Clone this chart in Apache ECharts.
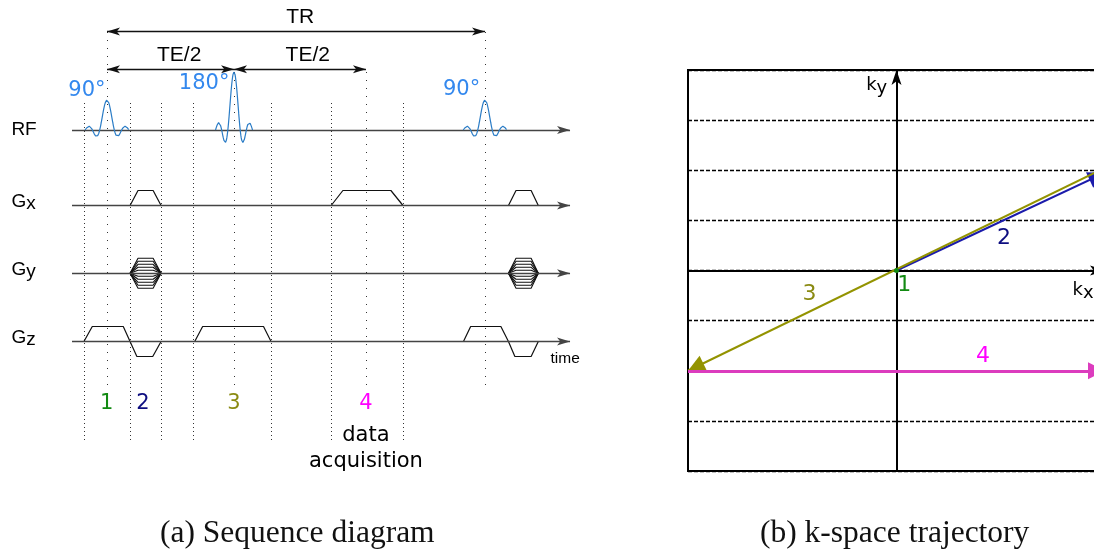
<!DOCTYPE html>
<html>
<head>
<meta charset="utf-8">
<script src="https://cdn.jsdelivr.net/npm/echarts@6/dist/echarts.min.js"></script>
<style>
  html, body { margin: 0; padding: 0; background: #fff; }
  #chart { width: 1094px; height: 553px; }
</style>
</head>
<body>
<div id="chart"></div>
<script>
// ---------- (a) spin-echo sequence: time in units of TR/100, first 90° pulse at t = 0 ----------
const laneNames = ['RF', 'Gx', 'Gy', 'Gz'];
const laneSubscripts = ['', 'x', 'y', 'z'];
const laneBaselines = [423, 347.5, 279.7, 211.5];
const laneLabelTime = -25.3;
const gradientHeight = 15;
const timeStart = -9.26, timeEnd = 122.49;

const rfCenters = [0, 33.6, 100];
const rfHeights = [30, 58, 30];
const rfHalfWidths = [5.8, 4.9, 5.75];
const rfLabels = ['90°', '180°', '90°'];
const rfLabelAt = [[-5.3, 462.5], [25.7, 469], [93.8, 463]];

// gradient lobes as [time, relative amplitude] breakpoints
const gxLobes = [
  [[6.1, 0], [8.2, 1], [12.2, 1], [14.3, 0]],
  [[59.3, 0], [62.4, 1], [75.1, 1], [78.3, 0]],
  [[106.2, 0], [108.2, 1], [112.2, 1], [114.1, 0]]
];
const gyWindows = [[6.1, 8.2, 12.2, 14.3], [106.2, 108.2, 112.2, 114.1]];
const gySteps = [1, 0.8, 0.6, 0.4, 0.2, -0.2, -0.4, -0.6, -0.8, -1];
const gzLobes = [
  [[-6.1, 0], [-3.9, 1], [4.3, 1], [6.1, 0], [7.9, -1], [12.1, -1], [14.3, 0]],
  [[23.2, 0], [25.3, 1], [41.4, 1], [43.4, 0]],
  [[94.3, 0], [96.2, 1], [104.2, 1], [106.2, 0], [107.9, -1], [112.2, -1], [114.1, 0]]
];

const segmentBounds = [-6.1, 6.1, 14.3, 22.8, 43.4, 59.3, 78.3];
const segmentSpan = [113, 453];
const timingMarks = [0, 33.6, 68.5, 100];
const timingMarkTops = [521.5, 483.7, 483.7, 521.5];
const timingMarkBottom = 168;

const spanNames = ['TR', 'TE/2', 'TE/2'];
const spanFrom = [0, 0, 33.6];
const spanTo = [100, 33.6, 68.5];
const spanLevels = [521.5, 483.7, 483.7];
const spanLabelAt = [[51.1, 535.5], [19.1, 498], [53.1, 498]];

const stepNames = ['1', '2', '3', '4'];
const stepColors = ['#128a12', '#0d0d80', '#8a8a12', '#ff00ff'];
const stepTimes = [-0.1, 9.5, 33.6, 68.5];
const stepLevel = 149;
const acquisitionLines = ['data', 'acquisition'];
const acquisitionLevels = [117, 91];
const timeLabelAt = [121.2, 194];

// ---------- (b) k-space trajectory ----------
const kLimit = 4;
const kStepFrom = [[0, 0], [4, 2.05], [-4, -2]];
const kStepTo = [[4, 1.95], [-4, -2], [4, -2]];
const kStepColors = ['#1b1bab', '#939300', '#dc3cbe'];
const kStepWidths = [2, 2, 3];
const kStepLabelAt = [[0.15, -0.30], [2.06, 0.64], [-1.67, -0.48], [1.66, -1.72]];
const kAxisLabelAt = [[-0.38, 3.69], [3.58, -0.39]];
const kAxisNames = ['y', 'x'];

const captions = ['(a) Sequence diagram', '(b) k-space trajectory'];

// ---------- drawing ----------
const SANS = 'DejaVu Sans';
const ARIAL = 'Liberation Sans';
const STEALTH = 'path://M0,0 L7,16 L0,12 L-7,16 Z';
const TRIANGLE = 'path://M0,0 L8,16 L-8,16 Z';

const series = [];

function polyline(data, color, width, grid, z) {
  series.push({
    type: 'line', xAxisIndex: grid, yAxisIndex: grid, data: data,
    showSymbol: false, symbol: 'none', silent: true, z: z || 4,
    lineStyle: { color: color, width: width }, animation: false
  });
}

// straight segments drawn as markLines; `head` = { size: [w, h] } puts the arrow tip on the end point
function markLines(grid, pairs, opts, head, z) {
  const endProps = head ? { symbolSize: head.size, symbolOffset: [0, head.size[1] / 2] } : {};
  series.push({
    type: 'line', xAxisIndex: grid, yAxisIndex: grid, data: [], silent: true, z: z || 3,
    markLine: Object.assign({
      silent: true, animation: false, label: { show: false },
      emphasis: { disabled: true },
      data: pairs.map(p => [Object.assign({ coord: p[0] }, endProps), Object.assign({ coord: p[1] }, endProps)])
    }, opts)
  });
}

// lane baselines with arrowheads
markLines(0, laneBaselines.map(b => [[timeStart, b], [timeEnd, b]]), {
  symbol: ['none', STEALTH],
  lineStyle: { type: 'solid', color: '#444', width: 1.4 }
}, { size: [8, 13] }, 3);

// segment boundaries (dense dots) and timing marks (sparse dots)
markLines(0, segmentBounds.map(t => [[t, segmentSpan[0]], [t, segmentSpan[1]]]), {
  symbol: 'none', lineStyle: { type: [1, 3], color: '#333', width: 1 }
}, null, 2);
markLines(0, timingMarks.map((t, i) => [[t, timingMarkBottom], [t, timingMarkTops[i]]]), {
  symbol: 'none', lineStyle: { type: [1, 7], color: '#333', width: 1 }
}, null, 2);

// TR and TE/2 spans
markLines(0, spanFrom.map((t, i) => [[t, spanLevels[i]], [spanTo[i], spanLevels[i]]]), {
  symbol: [STEALTH, STEALTH],
  lineStyle: { type: 'solid', color: '#111', width: 1.4 }
}, { size: [8, 13] }, 3);

// RF sinc pulses
rfCenters.forEach((c, i) => {
  const pts = [];
  const n = 180;
  for (let k = 0; k <= n; k++) {
    const x = -3 * Math.PI + 6 * Math.PI * k / n;
    const s = Math.abs(x) < 1e-9 ? 1 : Math.sin(x) / x;
    pts.push([c + rfHalfWidths[i] * x / (3 * Math.PI), laneBaselines[0] + rfHeights[i] * s]);
  }
  polyline(pts, '#2a7cc6', 1.2, 0, 5);
});

// gradient lobes
gxLobes.forEach(l => polyline(l.map(p => [p[0], laneBaselines[1] + gradientHeight * p[1]]), '#111', 1.2, 0));
gyWindows.forEach(w => gySteps.forEach(a => {
  polyline([[w[0], laneBaselines[2]], [w[1], laneBaselines[2] + gradientHeight * a],
            [w[2], laneBaselines[2] + gradientHeight * a], [w[3], laneBaselines[2]]], '#111', 1.1, 0);
}));
gzLobes.forEach(l => polyline(l.map(p => [p[0], laneBaselines[3] + gradientHeight * p[1]]), '#111', 1.2, 0));

// text annotations placed in data space
function textSeries(grid, items) {
  series.push({
    type: 'scatter', xAxisIndex: grid, yAxisIndex: grid, symbolSize: 0, silent: true, z: 10,
    itemStyle: { color: 'rgba(0,0,0,0)', opacity: 1 }, animation: false, clip: false,
    label: { show: true, position: 'inside', align: 'center', verticalAlign: 'middle', opacity: 1 },
    data: items.map(it => ({ value: it.at, label: Object.assign({ show: true, position: 'inside', opacity: 1, textBorderWidth: 0, formatter: it.text }, it.style) }))
  });
}

const subRich = (family, size, color) => ({
  m: { fontFamily: family, fontSize: size, color: color, lineHeight: 24, verticalAlign: 'middle' },
  s: { fontFamily: family, fontSize: size, color: color, lineHeight: 17, verticalAlign: 'bottom' }
});

const leftTexts = [];
laneNames.forEach((name, i) => {
  const sub = laneSubscripts[i];
  leftTexts.push({
    at: [laneLabelTime, laneBaselines[i] + (sub ? 4 : 0)],
    text: sub ? '{m|' + name.charAt(0) + '}{s|' + sub + '}' : name,
    style: sub ? { align: 'left', rich: subRich(ARIAL, 19, '#000') }
               : { align: 'left', fontFamily: ARIAL, fontSize: 19, color: '#000' }
  });
});
rfLabels.forEach((t, i) => leftTexts.push({ at: rfLabelAt[i], text: t, style: { fontFamily: SANS, fontSize: 21, color: '#3388ee' } }));
spanNames.forEach((t, i) => leftTexts.push({ at: spanLabelAt[i], text: t, style: { fontFamily: ARIAL, fontSize: 21, color: '#000' } }));
stepNames.forEach((t, i) => leftTexts.push({ at: [stepTimes[i], stepLevel], text: t, style: { fontFamily: SANS, fontSize: 21, color: stepColors[i] } }));
acquisitionLines.forEach((t, i) => leftTexts.push({ at: [timingMarks[2], acquisitionLevels[i]], text: t, style: { fontFamily: SANS, fontSize: 21, color: '#000' } }));
leftTexts.push({ at: timeLabelAt, text: 'time', style: { fontFamily: ARIAL, fontSize: 15.5, color: '#000' } });
textSeries(0, leftTexts);

// k-space axes
markLines(1, [[[0, -kLimit], [0, kLimit]], [[-kLimit, 0], [kLimit, 0]]], {
  symbol: ['none', STEALTH],
  lineStyle: { type: 'solid', color: '#000', width: 2 }
}, { size: [10, 15] }, 4);

// trajectory steps 2-4
kStepFrom.forEach((from, i) => {
  markLines(1, [[from, kStepTo[i]]], {
    symbol: ['none', TRIANGLE],
    lineStyle: { type: 'solid', color: kStepColors[i], width: kStepWidths[i] },
    itemStyle: { color: kStepColors[i] }
  }, { size: [17, 17] }, 6 + i);
});

// step 1: the origin
series.push({
  type: 'scatter', xAxisIndex: 1, yAxisIndex: 1, symbolSize: 5, silent: true, z: 9,
  itemStyle: { color: stepColors[0], opacity: 1 }, data: [[0, 0]], animation: false
});

const rightTexts = [];
stepNames.forEach((t, i) => rightTexts.push({ at: kStepLabelAt[i], text: t, style: { fontFamily: SANS, fontSize: 22, color: stepColors[i] } }));
kAxisNames.forEach((s, i) => rightTexts.push({ at: kAxisLabelAt[i], text: '{m|k}{s|' + s + '}', style: { rich: subRich(SANS, 18, '#000') } }));
textSeries(1, rightTexts);

const option = {
  animation: false,
  backgroundColor: '#fff',
  title: captions.map((c, i) => ({
    text: c, left: [160, 760][i], top: 518, padding: 0,
    textStyle: { fontFamily: 'Liberation Serif', fontSize: 31.5, fontWeight: 'normal', color: '#111' }
  })),
  grid: [
    { left: 0, top: 0, width: 600, height: 553, outerBoundsMode: 'none' },
    { left: 688, top: 70, width: 417, height: 401, outerBoundsMode: 'none', show: true,
      borderColor: '#000', borderWidth: 2, backgroundColor: 'transparent' }
  ],
  xAxis: [
    { type: 'value', gridIndex: 0, min: -28.31, max: 130.42, show: false },
    { type: 'value', gridIndex: 1, min: -kLimit, max: kLimit, interval: 1,
      axisLine: { show: false }, axisTick: { show: false }, axisLabel: { show: false }, splitLine: { show: false } }
  ],
  yAxis: [
    { type: 'value', gridIndex: 0, min: 0, max: 553, show: false },
    { type: 'value', gridIndex: 1, min: -kLimit, max: kLimit, interval: 1,
      axisLine: { show: false }, axisTick: { show: false }, axisLabel: { show: false },
      splitLine: { show: true, lineStyle: { type: [4, 2], color: '#000', width: 1.3 } } }
  ],
  series: series
};

const chart = echarts.init(document.getElementById('chart'), null, { renderer: 'canvas' });
chart.setOption(option);
</script>
</body>
</html>
